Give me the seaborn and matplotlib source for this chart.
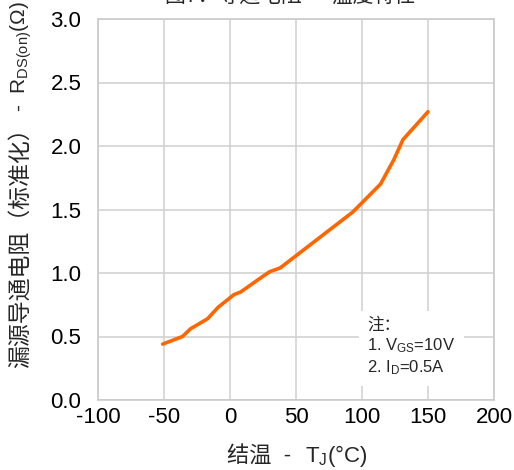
import matplotlib
matplotlib.use("Agg")
import matplotlib.pyplot as plt
import seaborn as sns
import pandas as pd

# RDS(on) normalized vs junction temperature
temp_c = [-51, -36, -30, -17, -9, 3, 8, 23, 30, 38, 93, 114, 124, 131, 150]
rds_norm = [0.44, 0.50, 0.56, 0.64, 0.73, 0.83, 0.85, 0.96, 1.01, 1.04, 1.48, 1.70, 1.89, 2.05, 2.27]
x_ticks = [-100, -50, 0, 50, 100, 150, 200]
y_ticks = [0.0, 0.5, 1.0, 1.5, 2.0, 2.5, 3.0]

df = pd.DataFrame({"Tj": temp_c, "Rds": rds_norm})

sns.set_style("whitegrid")
plt.rcParams["font.family"] = ["Liberation Sans", "Noto Sans CJK SC", "DejaVu Sans"]
plt.rcParams["axes.unicode_minus"] = False
plt.rcParams["mathtext.fontset"] = "custom"
plt.rcParams["mathtext.rm"] = "Liberation Sans"
plt.rcParams["mathtext.it"] = "Liberation Sans:italic"

W, H = 514, 470
fig = plt.figure(figsize=(W / 100, H / 100), dpi=100)
ax = fig.add_axes([98 / W, 70 / H, 396 / W, 381 / H])

sns.lineplot(data=df, x="Tj", y="Rds", ax=ax, color="#ff6600", linewidth=2.6)

ax.set_xlim(-100, 200)
ax.set_ylim(0, 3.0)
ax.set_xticks(x_ticks)
ax.set_yticks(y_ticks)
ax.set_yticklabels([f"{v:.1f}" for v in y_ticks])
ax.tick_params(axis="both", labelsize=16, length=0, colors="black")
ax.tick_params(axis="y", pad=12)
ax.tick_params(axis="x", pad=5)
ax.grid(True, color="#d0d0d0", linewidth=1.1)
for s in ax.spines.values():
    s.set_color("#c8c8c8")
    s.set_linewidth(1.1)
ax.set_xlabel("")
ax.set_ylabel("")

# note box (one line per text line so CJK and mathtext don't mix)
ax.text(104, 0.65,
        "注：\n1. V$_\\mathregular{GS}$=10V\n2. I$_\\mathregular{D}$=0.5A",
        fontsize=12, linespacing=1.25, va="top", ha="left",
        bbox=dict(facecolor="white", edgecolor="none", pad=6))

# axis labels: CJK part and subscript part drawn as separate texts
fig.canvas.draw()
r = fig.canvas.get_renderer()

yl1 = fig.text(20 / W, 1 - 368 / H, "漏源导通电阻（标准化）", rotation=90,
               ha="center", va="bottom", fontsize=16.5)
bb = yl1.get_window_extent(r)
fig.text(21 / W, (bb.y1 + 4) / H, "-  R$_\\mathregular{DS(on)}$(Ω)", rotation=90,
         ha="center", va="bottom", fontsize=15)

xl1 = fig.text(227 / W, 1 - 456 / H, "结温  -  ", ha="left", va="center", fontsize=16)
bb = xl1.get_window_extent(r)
fig.text((bb.x1 + 2) / W, 1 - 456 / H, "T$_\\mathregular{J}$(°C)", ha="left", va="center", fontsize=16)

# title, mostly cut off at the top edge
fig.text(0.565, 1 - 6 / H, "图7：导通电阻  -  温度特性", ha="center", va="bottom", fontsize=15)

fig.savefig("out.png", dpi=100)
